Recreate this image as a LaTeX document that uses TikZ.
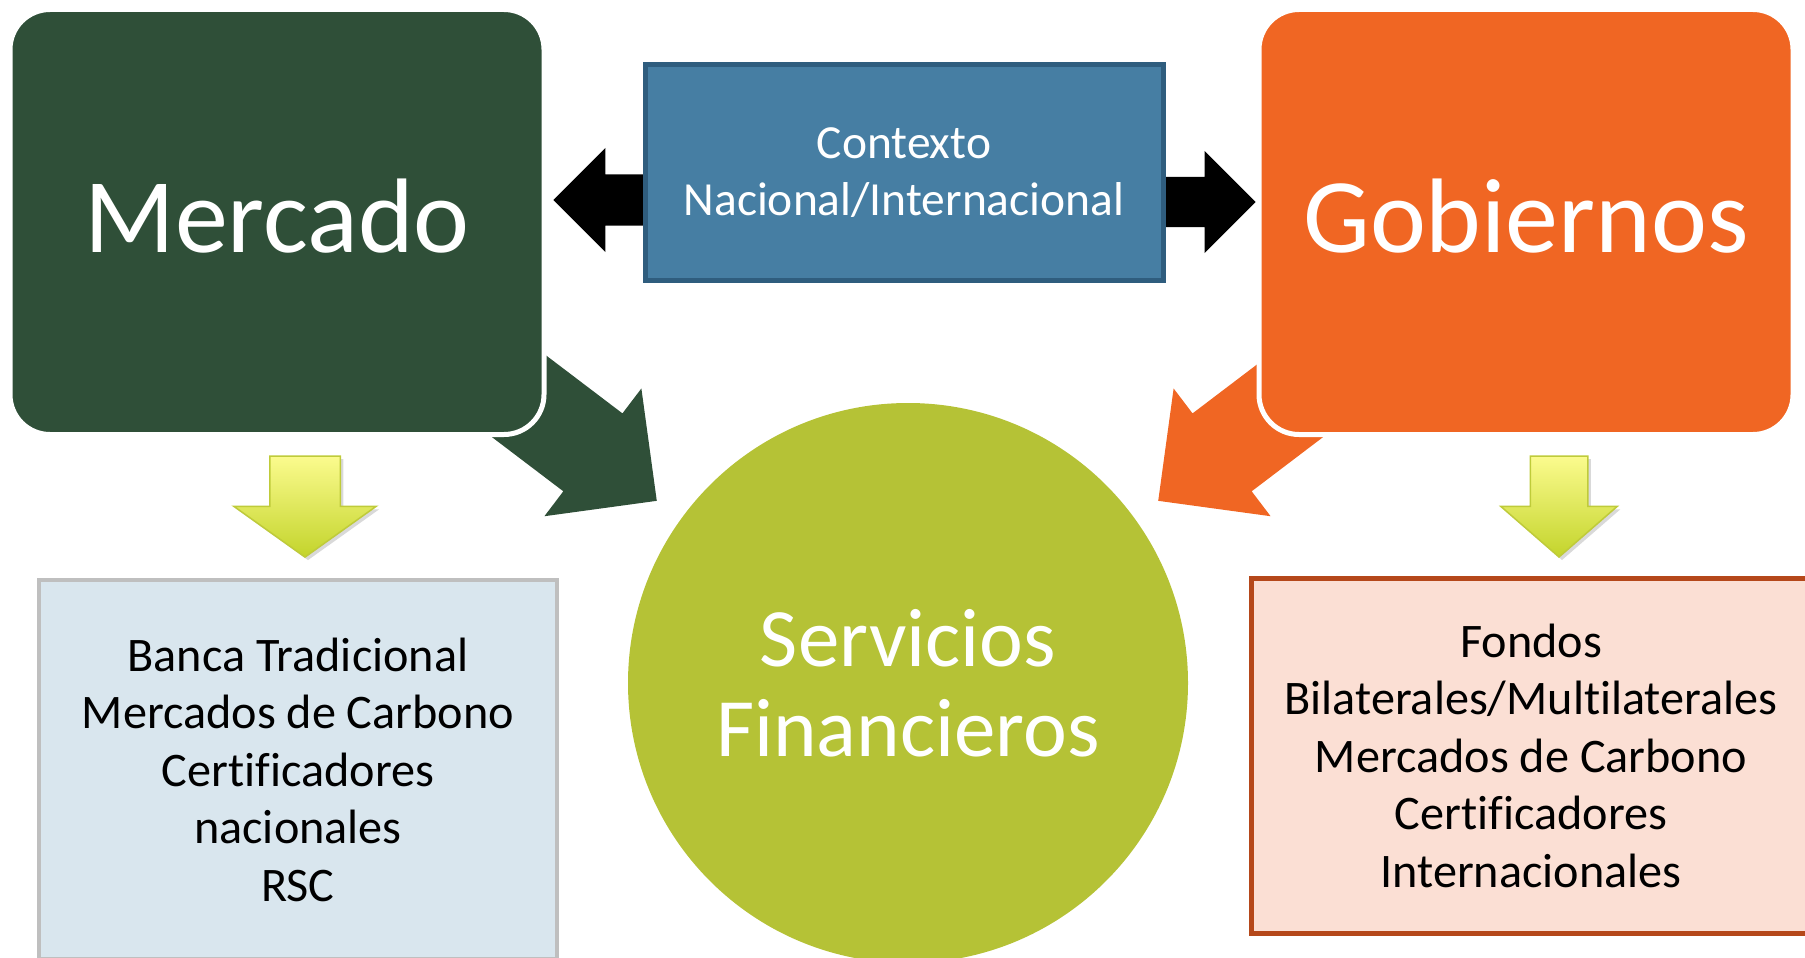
\documentclass[tikz,border=0pt]{standalone}
\usepackage{fontspec}
\setmainfont{Carlito}[Ligatures=CommonOff]
\usetikzlibrary{
  shapes.arrows,
  shadows,
  backgrounds,
  positioning
}
\definecolor{mercadoGreen}{HTML}{2F4F38}
\definecolor{gobiernoOrange}{HTML}{F06623}
\definecolor{contextoBlue}{HTML}{467EA3}
\definecolor{contextoLine}{HTML}{2F5D7E}
\definecolor{servGreen}{HTML}{B5C236}
\definecolor{listBlue}{HTML}{D9E6EE}
\definecolor{listGray}{HTML}{BFBFBF}
\definecolor{listPeach}{HTML}{FBDFD4}
\definecolor{listRust}{HTML}{B5481A}
\definecolor{yellowTop}{HTML}{FBFB8E}
\definecolor{yellowBottom}{HTML}{C3D42B}
\definecolor{yellowLine}{HTML}{BFCB3A}
\tikzset{
  every node/.style={align=center, inner sep=0pt},
  bigbox/.style={rectangle, rounded corners=40pt, minimum width=534pt,
    minimum height=425pt, draw=white, line width=5pt, text=white,
    text depth=12pt, font=\fontsize{106}{116}\selectfont},
  listbox/.style={rectangle, minimum width=518pt,
    font=\fontsize{48.2}{57.5}\selectfont},
  blockarrow/.style={single arrow, single arrow tip angle=90, draw=none,
    anchor=tip},
  downarrow/.style={single arrow, rotate=-90, anchor=tip,
    minimum height=101pt, top color=yellowTop, bottom color=yellowBottom,
    draw=yellowLine, line width=1.5pt,
    drop shadow={opacity=0.3, shadow xshift=3pt, shadow yshift=-3pt}},
}

\begin{document}
\begin{tikzpicture}[x=1pt, y=-1pt]
      \useasboundingbox (0,0) rectangle (1805,958);
      \node[bigbox, fill=mercadoGreen] (mercado) at (277,222) {Mercado};
      \node[bigbox, fill=gobiernoOrange] (gobiernos) at (1526,222) {Gobiernos};
      \node (contexto) at (904,172.5) [rectangle, fill=contextoBlue,
        draw=contextoLine, line width=5pt, minimum width=518pt,
        minimum height=215pt, text=white,
        font=\fontsize{47.5}{57}\selectfont] {
        Contexto \\
        Nacional/Internacional
      };
      \node (servicios) at (908,683) [circle, fill=servGreen,
        minimum size=560pt, text=white,
        font=\fontsize{83}{90}\selectfont] {
        Servicios \\
        Financieros
      };
      \node (mercadoList) at (298,769.5) [listbox, fill=listBlue,
        draw=listGray, line width=4pt, minimum height=379pt] {
        Banca Tradicional \\
        Mercados de Carbono \\
        Certificadores \\
        nacionales \\
        RSC
      };
      \node (gobiernosList) at (1531,755.5) [listbox, fill=listPeach,
        draw=listRust, line width=5pt, minimum width=560pt,
        minimum height=355pt] {
        Fondos \\
        Bilaterales/Multilaterales \\
        Mercados de Carbono \\
        Certificadores \\
        Internacionales
      };

      \node[downarrow, inner ysep=34.5pt, single arrow head extend=36pt,
        single arrow tip angle=109] (downMercado) at (305,558) {};
      \node[downarrow, inner ysep=28pt, single arrow head extend=29.5pt,
        single arrow tip angle=98] (downGobiernos) at (1559,558) {};

      \begin{scope}[on background layer]
        \node[blockarrow, fill=black, rotate=180, minimum height=97pt,
          inner ysep=25.5pt, single arrow head extend=26.5pt]
          (toMercado) at (553,200) {};
        \node[blockarrow, fill=black, minimum height=98pt,
          inner ysep=25pt, single arrow head extend=26pt]
          (toGobiernos) at (1256,202) {};
        \node[blockarrow, fill=mercadoGreen, rotate=-37.2,
          minimum height=260pt, inner ysep=48.7pt,
          single arrow head extend=31.3pt] (mercadoServ) at (657,501) {};
        \node[blockarrow, fill=gobiernoOrange, rotate=-142.8,
          minimum height=260pt, inner ysep=48.7pt,
          single arrow head extend=31.3pt] (gobiernosServ) at (1158,501) {};
      \end{scope}
\end{tikzpicture}
\end{document}
